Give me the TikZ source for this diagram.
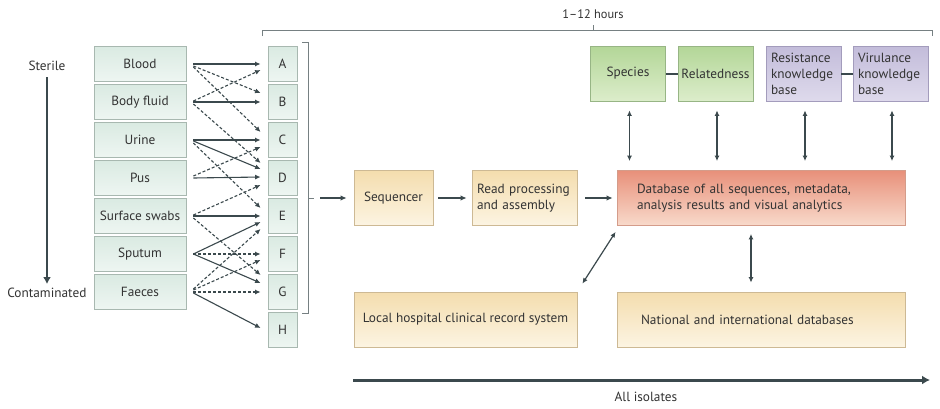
\documentclass[tikz,border=0pt]{standalone}
\usepackage{fontspec}
\setmainfont{PT Sans}
\usetikzlibrary{arrows.meta,calc}
\definecolor{arr}{HTML}{3B494D}
\definecolor{txt}{HTML}{333333}
\definecolor{mintT}{HTML}{DAEAE2}
\definecolor{mintB}{HTML}{EEF6F2}
\definecolor{mintD}{HTML}{A8B8B0}
\definecolor{grnT}{HTML}{B3D697}
\definecolor{grnB}{HTML}{DCEDCB}
\definecolor{grnD}{HTML}{97B585}
\definecolor{purT}{HTML}{C3BCDA}
\definecolor{purB}{HTML}{DEDAEC}
\definecolor{purD}{HTML}{A39CBC}
\definecolor{salT}{HTML}{E8907A}
\definecolor{salB}{HTML}{F8DACB}
\definecolor{salD}{HTML}{D49C8A}
\definecolor{tanT}{HTML}{F4DDAE}
\definecolor{tanB}{HTML}{FCF4E2}
\definecolor{tanD}{HTML}{CDB994}
\newcommand\cnx[5]{\draw[#1] ($(#2.east)+(7,#3)$) -- ($(#4.west)+(-7,#5)$);}
\begin{document}
\begin{tikzpicture}[x=1pt,y=-1pt,
  font=\fontsize{13.3}{16}\selectfont, text=txt,
  samp/.style={draw=mintD, line width=0.8pt, top color=mintT, bottom color=mintB, minimum width=92pt, minimum height=35pt, inner sep=0pt},
  lett/.style={samp, minimum width=29pt},
  grnbox/.style={draw=grnD, line width=0.8pt, top color=grnT, bottom color=grnB, minimum width=75pt, minimum height=55pt, inner sep=0pt},
  purbox/.style={draw=purD, line width=0.8pt, top color=purT, bottom color=purB, minimum width=75pt, minimum height=55pt, inner xsep=5pt, text width=65pt, align=left},
  tanbox/.style={draw=tanD, line width=0.8pt, top color=tanT, bottom color=tanB, minimum height=55pt, inner sep=0pt},
  salbox/.style={draw=salD, line width=0.8pt, top color=salT, bottom color=salB, minimum height=55pt},
  sol/.style={draw=arr, line width=1.1pt, -{Latex[length=5.5pt,width=5pt]}},
  dsh/.style={sol, dash pattern=on 3pt off 2pt},
  flow/.style={draw=arr, line width=1.6pt, -{Latex[length=6pt,width=5.5pt]}},
  dbl/.style={draw=arr, line width=1.2pt, {Latex[length=5.5pt,width=5pt]}-{Latex[length=5.5pt,width=5pt]}},
  brk/.style={draw=arr!70, line width=1pt},
  link/.style={draw=arr, line width=2pt}
]
\useasboundingbox (0,0) rectangle (940,408);
\fill[white] (0,0) rectangle (940,408);

% gradient labels
\node (ster) at (47,66) {Sterile};
\node[anchor=east] (cont) at (90,293) {Contaminated};
\coordinate (g1) at (47,77);
\coordinate (g2) at (47,284);
\draw[draw=arr, line width=2.5pt, -{Latex[length=7pt,width=8pt]}] (g1) -- (g2);

% samples
\node[samp] (s1) at (140,64) {Blood};
\node[samp] (s2) at (140,102) {Body fluid};
\node[samp] (s3) at (140,140) {Urine};
\node[samp] (s4) at (140,178) {Pus};
\node[samp] (s5) at (140,216) {Surface swabs};
\node[samp] (s6) at (140,254) {Sputum};
\node[samp] (s7) at (140,292) {Faeces};

% letters
\node[lett] (LA) at (282.5,64) {A};
\node[lett] (LB) at (282.5,102) {B};
\node[lett] (LC) at (282.5,140) {C};
\node[lett] (LD) at (282.5,178) {D};
\node[lett] (LE) at (282.5,216) {E};
\node[lett] (LF) at (282.5,254) {F};
\node[lett] (LG) at (282.5,292) {G};
\node[lett] (LH) at (282.5,330) {H};

% sample -> letter connectors
\cnx{sol}{s1}{0}{LA}{0}
\cnx{dsh}{s1}{2}{LB}{-9}
\cnx{dsh}{s1}{3}{LC}{-8}
\cnx{sol}{s2}{0}{LB}{0}
\cnx{dsh}{s2}{-1}{LA}{6}
\cnx{dsh}{s2}{2}{LD}{-15}
\cnx{sol}{s3}{0}{LC}{0}
\cnx{sol}{s3}{1}{LD}{-9}
\cnx{dsh}{s3}{3}{LE}{-8}
\cnx{sol}{s4}{0}{LD}{-1}
\cnx{dsh}{s4}{-2}{LC}{7}
\cnx{sol}{s5}{0}{LE}{0}
\cnx{dsh}{s5}{-1}{LD}{7}
\cnx{dsh}{s5}{2}{LG}{-17}
\cnx{sol}{s6}{0}{LE}{6}
\cnx{sol}{s6}{0}{LG}{-9}
\cnx{dsh}{s6}{0}{LF}{0}
\cnx{sol}{s7}{1}{LH}{-2}
\cnx{dsh}{s7}{0}{LG}{0}
\cnx{dsh}{s7}{-2}{LF}{6}
\cnx{dsh}{s7}{-3}{LE}{13}

% bracket
\draw[brk] (302,42) -- (308,42) -- (308,313) -- (302,313);
\draw[brk] (308,198) -- (314,198);
\coordinate (bo) at (320,198);

% pipeline
\node[tanbox, minimum width=79pt] (seq) at (393.5,198) {Sequencer};
\node[tanbox, minimum width=105pt, inner xsep=5pt, text width=95pt, align=left] (rp) at (524.5,198) {Read processing\\and assembly};
\node[salbox, minimum width=288pt, inner xsep=20pt, text width=248pt, align=left] (db) at (761,198) {Database of all sequences, metadata,\\analysis results and visual analytics};
\node[tanbox, minimum width=223pt] (loc) at (465.5,319.5) {Local hospital clinical record system};
\node[tanbox, minimum width=288pt, inner xsep=24pt, text width=240pt, align=left] (nat) at (761,319.5) {National and international databases};

\draw[flow, shorten >=7pt] (bo) -- (seq.west);
\draw[flow, shorten <=5pt, shorten >=5pt] (seq.east) -- (rp.west);
\draw[flow, shorten <=8pt, shorten >=4pt] (rp.east) -- (db.west);

% top boxes
\node[grnbox] (sp) at (628,73.5) {Species};
\node[grnbox] (rel) at (715.5,73.5) {Relatedness};
\node[purbox] (res) at (803.5,73.5) {Resistance\\knowledge\\base};
\node[purbox] (vir) at (890.5,73.5) {Virulance\\knowledge\\base};
\draw[link] (sp.east) -- (rel.west);
\draw[link] (res.east) -- (vir.west);

\foreach \b in {sp,rel,res,vir}
  \draw[dbl, shorten <=9pt, shorten >=9pt] ([xshift=1.5pt]\b.south) -- ([xshift=1.5pt]\b.south |- db.north);

\draw[dbl, shorten <=8pt, shorten >=9pt] ([xshift=-10pt]db.south) -- ([xshift=-10pt]nat.north);
\draw[dbl] ($(loc.north east)+(5,-8)$) -- ($(db.south west)+(-1,6)$);

% time bracket
\draw[brk] (262,36) -- (262,30) -- (932,30) -- (932,36);
\draw[brk] (593,30) -- (593,25);
\node[font=\fontsize{12.4}{14}\selectfont] (hrs) at (593,14) {1–12 hours};

% all isolates
\coordinate (ai1) at (353,380);
\coordinate (ai2) at (930,380);
\draw[draw=arr, line width=3pt, -{Latex[length=8pt,width=9pt]}] (ai1) -- (ai2);
\node (all) at (646,397) {All isolates};
\end{tikzpicture}
\end{document}
